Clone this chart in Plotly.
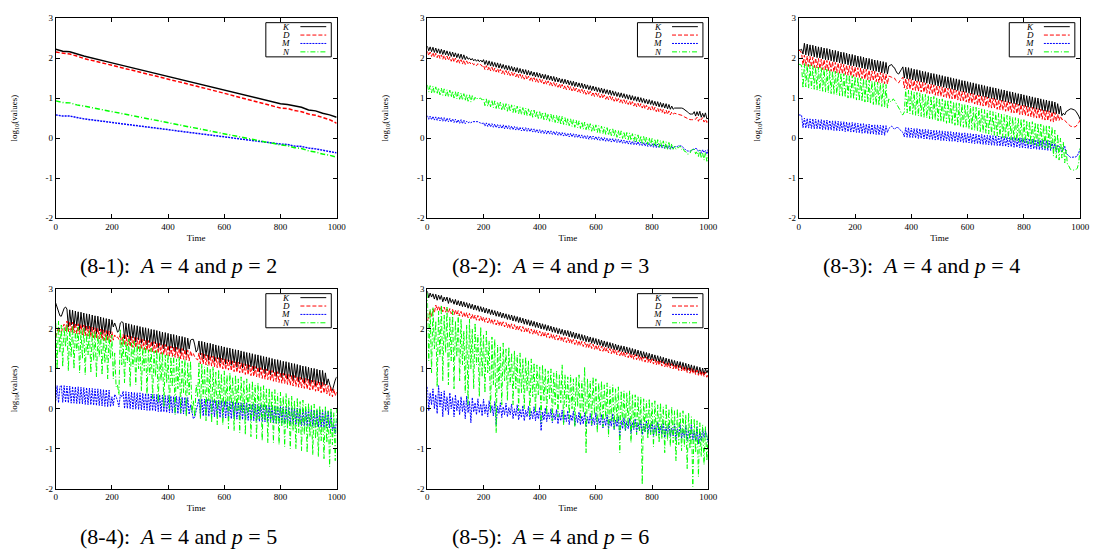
import plotly.graph_objects as go

# ---------------- data ----------------
# Panel (8-1): smooth curves
TIME_P1 = [0, 25, 50, 75, 100, 200, 300, 400, 500, 600, 700, 800, 825, 850, 875, 900, 925, 950, 975, 1000]
P1_K = [2.22, 2.17, 2.16, 2.10, 2.05, 1.88, 1.71, 1.54, 1.37, 1.20, 1.04, 0.86, 0.84, 0.80, 0.77, 0.70, 0.68, 0.62, 0.58, 0.52]
P1_D = [2.15, 2.12, 2.10, 2.05, 1.99, 1.82, 1.65, 1.48, 1.30, 1.12, 0.94, 0.75, 0.74, 0.69, 0.66, 0.60, 0.57, 0.51, 0.46, 0.37]
P1_M = [0.58, 0.55, 0.55, 0.51, 0.48, 0.39, 0.30, 0.21, 0.11, 0.03, -0.06, -0.15, -0.16, -0.20, -0.21, -0.25, -0.27, -0.30, -0.33, -0.37]
P1_N = [0.93, 0.89, 0.88, 0.83, 0.80, 0.66, 0.52, 0.38, 0.24, 0.10, -0.03, -0.17, -0.19, -0.24, -0.26, -0.32, -0.35, -0.40, -0.43, -0.48]

# Panels (8-2)..(8-5): oscillating curves, read as upper values at t = 0,10,...,1000
# and lower values at t = 5,15,...,995
T_HI = list(range(0, 1001, 10))
T_LO = list(range(5, 1000, 10))

P2_K_HI = [2.30, 2.28, 2.27, 2.25, 2.23, 2.22, 2.20, 2.18, 2.16, 2.15,
           2.13, 2.11, 2.10, 2.08, 2.04, 2.00, 1.99, 1.97, 1.96, 1.95,
           1.96, 1.94, 1.93, 1.91, 1.89, 1.88, 1.86, 1.84, 1.82, 1.81,
           1.79, 1.77, 1.76, 1.74, 1.72, 1.71, 1.69, 1.67, 1.65, 1.64,
           1.62, 1.60, 1.59, 1.57, 1.55, 1.54, 1.52, 1.50, 1.48, 1.47,
           1.45, 1.43, 1.42, 1.40, 1.38, 1.37, 1.35, 1.33, 1.31, 1.30,
           1.28, 1.26, 1.25, 1.23, 1.21, 1.20, 1.18, 1.16, 1.14, 1.13,
           1.11, 1.09, 1.08, 1.06, 1.04, 1.03, 1.01, 0.99, 0.97, 0.96,
           0.94, 0.92, 0.91, 0.89, 0.87, 0.86, 0.84, 0.80, 0.75, 0.76,
           0.76, 0.74, 0.69, 0.63, 0.60, 0.66, 0.66, 0.67, 0.62, 0.63,
           0.50]
P2_K_LO = [2.18, 2.16, 2.14, 2.13, 2.11, 2.09, 2.08, 2.06, 2.04, 2.03,
           2.01, 1.99, 1.97, 1.96, 1.97, 1.95, 1.93, 1.92, 1.91, 1.90,
           1.84, 1.82, 1.80, 1.79, 1.77, 1.75, 1.74, 1.72, 1.70, 1.69,
           1.67, 1.65, 1.63, 1.62, 1.60, 1.58, 1.57, 1.55, 1.53, 1.52,
           1.50, 1.48, 1.46, 1.45, 1.43, 1.41, 1.40, 1.38, 1.36, 1.35,
           1.33, 1.31, 1.29, 1.28, 1.26, 1.24, 1.23, 1.21, 1.19, 1.18,
           1.16, 1.14, 1.12, 1.11, 1.09, 1.07, 1.06, 1.04, 1.02, 1.01,
           0.99, 0.97, 0.95, 0.94, 0.92, 0.90, 0.89, 0.87, 0.85, 0.84,
           0.82, 0.80, 0.78, 0.77, 0.75, 0.73, 0.72, 0.72, 0.75, 0.76,
           0.75, 0.72, 0.66, 0.60, 0.60, 0.55, 0.56, 0.52, 0.52, 0.48]
P2_D_HI = [2.17, 2.15, 2.14, 2.12, 2.10, 2.08, 2.07, 2.05, 2.03, 2.01,
           2.00, 1.98, 1.96, 1.95, 1.93, 1.90, 1.88, 1.86, 1.86, 1.84,
           1.82, 1.81, 1.79, 1.77, 1.75, 1.74, 1.72, 1.70, 1.69, 1.67,
           1.65, 1.63, 1.62, 1.60, 1.58, 1.56, 1.55, 1.53, 1.51, 1.50,
           1.48, 1.46, 1.44, 1.43, 1.41, 1.39, 1.37, 1.36, 1.34, 1.32,
           1.31, 1.29, 1.27, 1.25, 1.24, 1.22, 1.20, 1.18, 1.17, 1.15,
           1.13, 1.12, 1.10, 1.08, 1.06, 1.05, 1.03, 1.01, 0.99, 0.98,
           0.96, 0.94, 0.93, 0.91, 0.89, 0.87, 0.86, 0.84, 0.82, 0.80,
           0.79, 0.77, 0.75, 0.73, 0.72, 0.70, 0.68, 0.65, 0.62, 0.61,
           0.59, 0.56, 0.51, 0.47, 0.46, 0.48, 0.52, 0.50, 0.51, 0.47,
           0.43]
P2_D_LO = [2.06, 2.04, 2.02, 2.01, 1.99, 1.97, 1.96, 1.94, 1.92, 1.90,
           1.89, 1.87, 1.85, 1.84, 1.84, 1.85, 1.83, 1.81, 1.82, 1.79,
           1.71, 1.70, 1.68, 1.66, 1.65, 1.63, 1.61, 1.59, 1.58, 1.56,
           1.54, 1.53, 1.51, 1.49, 1.47, 1.46, 1.44, 1.42, 1.40, 1.39,
           1.37, 1.35, 1.34, 1.32, 1.30, 1.28, 1.27, 1.25, 1.23, 1.21,
           1.20, 1.18, 1.16, 1.15, 1.13, 1.11, 1.09, 1.08, 1.06, 1.04,
           1.03, 1.01, 0.99, 0.97, 0.96, 0.94, 0.92, 0.90, 0.89, 0.87,
           0.85, 0.84, 0.82, 0.80, 0.78, 0.77, 0.75, 0.73, 0.71, 0.70,
           0.68, 0.66, 0.65, 0.63, 0.61, 0.59, 0.58, 0.60, 0.61, 0.60,
           0.58, 0.53, 0.49, 0.46, 0.46, 0.47, 0.42, 0.46, 0.40, 0.39]
P2_M_HI = [0.56, 0.55, 0.54, 0.53, 0.53, 0.52, 0.51, 0.50, 0.49, 0.48,
           0.47, 0.46, 0.46, 0.45, 0.42, 0.40, 0.41, 0.42, 0.41, 0.38,
           0.39, 0.38, 0.37, 0.36, 0.35, 0.34, 0.33, 0.33, 0.32, 0.31,
           0.30, 0.29, 0.28, 0.27, 0.26, 0.26, 0.25, 0.24, 0.23, 0.22,
           0.21, 0.20, 0.19, 0.19, 0.18, 0.17, 0.16, 0.15, 0.14, 0.13,
           0.12, 0.12, 0.11, 0.10, 0.09, 0.08, 0.07, 0.06, 0.06, 0.05,
           0.04, 0.03, 0.02, 0.01, 0.00, -0.01, -0.01, -0.02, -0.03, -0.04,
           -0.05, -0.06, -0.07, -0.08, -0.08, -0.09, -0.10, -0.11, -0.12, -0.13,
           -0.14, -0.14, -0.15, -0.16, -0.17, -0.18, -0.19, -0.20, -0.22, -0.21,
           -0.19, -0.23, -0.30, -0.33, -0.31, -0.27, -0.27, -0.30, -0.29, -0.31,
           -0.28]
P2_M_LO = [0.47, 0.46, 0.45, 0.44, 0.43, 0.42, 0.41, 0.41, 0.40, 0.39,
           0.38, 0.37, 0.36, 0.36, 0.38, 0.38, 0.41, 0.42, 0.39, 0.36,
           0.30, 0.29, 0.28, 0.27, 0.26, 0.25, 0.24, 0.23, 0.23, 0.22,
           0.21, 0.20, 0.19, 0.18, 0.17, 0.17, 0.16, 0.15, 0.14, 0.13,
           0.12, 0.11, 0.10, 0.10, 0.09, 0.08, 0.07, 0.06, 0.05, 0.04,
           0.03, 0.03, 0.02, 0.01, 0.00, -0.01, -0.02, -0.03, -0.03, -0.04,
           -0.05, -0.06, -0.07, -0.08, -0.09, -0.10, -0.10, -0.11, -0.12, -0.13,
           -0.14, -0.15, -0.16, -0.17, -0.17, -0.18, -0.19, -0.20, -0.21, -0.22,
           -0.23, -0.24, -0.24, -0.25, -0.26, -0.27, -0.28, -0.26, -0.22, -0.19,
           -0.20, -0.27, -0.32, -0.33, -0.28, -0.26, -0.33, -0.38, -0.36, -0.40]
P2_N_HI = [1.33, 1.31, 1.30, 1.28, 1.26, 1.25, 1.23, 1.21, 1.20, 1.18,
           1.16, 1.15, 1.13, 1.11, 1.10, 1.08, 1.06, 1.02, 1.01, 1.00,
           0.99, 0.98, 0.96, 0.95, 0.93, 0.91, 0.90, 0.88, 0.86, 0.85,
           0.83, 0.81, 0.80, 0.78, 0.76, 0.75, 0.73, 0.71, 0.70, 0.68,
           0.66, 0.65, 0.63, 0.61, 0.60, 0.58, 0.57, 0.57, 0.55, 0.51,
           0.50, 0.48, 0.46, 0.45, 0.43, 0.41, 0.40, 0.38, 0.36, 0.34,
           0.33, 0.31, 0.30, 0.28, 0.26, 0.24, 0.23, 0.21, 0.19, 0.18,
           0.16, 0.14, 0.13, 0.11, 0.09, 0.08, 0.06, 0.04, 0.03, 0.01,
           -0.01, -0.02, -0.04, -0.06, -0.07, -0.09, -0.11, -0.14, -0.20, -0.24,
           -0.20, -0.25, -0.34, -0.40, -0.30, -0.26, -0.33, -0.30, -0.38, -0.36,
           -0.42]
P2_N_LO = [1.15, 1.13, 1.12, 1.10, 1.08, 1.07, 1.05, 1.03, 1.02, 1.00,
           0.98, 0.97, 0.95, 0.93, 0.92, 0.90, 0.93, 0.96, 0.99, 0.95,
           0.81, 0.79, 0.78, 0.76, 0.74, 0.72, 0.71, 0.69, 0.67, 0.66,
           0.64, 0.62, 0.61, 0.59, 0.57, 0.56, 0.54, 0.52, 0.51, 0.49,
           0.47, 0.46, 0.44, 0.42, 0.41, 0.39, 0.37, 0.33, 0.34, 0.32,
           0.31, 0.29, 0.27, 0.26, 0.24, 0.22, 0.21, 0.19, 0.17, 0.16,
           0.14, 0.12, 0.11, 0.09, 0.07, 0.06, 0.04, 0.02, 0.01, -0.01,
           -0.03, -0.04, -0.06, -0.08, -0.09, -0.11, -0.13, -0.14, -0.16, -0.18,
           -0.19, -0.21, -0.23, -0.24, -0.26, -0.28, -0.29, -0.28, -0.28, -0.24,
           -0.28, -0.33, -0.40, -0.38, -0.28, -0.40, -0.46, -0.50, -0.55, -0.58]

P3_K_HI = [2.20, 2.22, 2.37, 2.35, 2.33, 2.32, 2.30, 2.28, 2.27, 2.25,
           2.24, 2.22, 2.20, 2.19, 2.17, 2.15, 2.14, 2.12, 2.10, 2.09,
           2.07, 2.05, 2.04, 2.02, 2.00, 1.99, 1.97, 1.95, 1.94, 1.92,
           1.91, 1.89, 1.80, 1.84, 1.76, 1.62, 1.68, 1.78, 1.77, 1.76,
           1.74, 1.72, 1.71, 1.69, 1.67, 1.66, 1.64, 1.62, 1.61, 1.59,
           1.58, 1.56, 1.54, 1.53, 1.51, 1.49, 1.48, 1.46, 1.44, 1.43,
           1.41, 1.39, 1.38, 1.36, 1.34, 1.33, 1.31, 1.29, 1.28, 1.26,
           1.25, 1.23, 1.21, 1.20, 1.18, 1.16, 1.15, 1.13, 1.11, 1.10,
           1.08, 1.06, 1.05, 1.03, 1.01, 1.00, 0.98, 0.96, 0.95, 0.93,
           0.92, 0.90, 0.86, 0.80, 0.62, 0.66, 0.72, 0.73, 0.70, 0.62,
           0.46]
P3_K_LO = [2.20, 2.10, 2.08, 2.06, 2.05, 2.03, 2.01, 2.00, 1.98, 1.96,
           1.95, 1.93, 1.91, 1.90, 1.88, 1.86, 1.85, 1.83, 1.81, 1.80,
           1.78, 1.77, 1.75, 1.73, 1.72, 1.70, 1.68, 1.67, 1.65, 1.63,
           1.62, 1.60, 1.82, 1.78, 1.68, 1.60, 1.72, 1.50, 1.48, 1.47,
           1.45, 1.43, 1.42, 1.40, 1.39, 1.37, 1.35, 1.34, 1.32, 1.30,
           1.29, 1.27, 1.25, 1.24, 1.22, 1.20, 1.19, 1.17, 1.15, 1.14,
           1.12, 1.10, 1.09, 1.07, 1.05, 1.04, 1.02, 1.00, 0.99, 0.97,
           0.96, 0.94, 0.92, 0.91, 0.89, 0.87, 0.86, 0.84, 0.82, 0.81,
           0.79, 0.77, 0.76, 0.74, 0.72, 0.71, 0.69, 0.67, 0.66, 0.64,
           0.62, 0.61, 0.60, 0.56, 0.58, 0.69, 0.73, 0.72, 0.67, 0.55]
P3_D_HI = [2.20, 2.12, 2.07, 2.05, 2.04, 2.02, 2.00, 1.99, 1.97, 1.96,
           1.94, 1.92, 1.91, 1.89, 1.88, 1.86, 1.84, 1.83, 1.81, 1.80,
           1.78, 1.76, 1.75, 1.73, 1.72, 1.70, 1.68, 1.67, 1.65, 1.64,
           1.62, 1.60, 1.55, 1.52, 1.50, 1.40, 1.44, 1.52, 1.49, 1.48,
           1.46, 1.44, 1.43, 1.41, 1.40, 1.38, 1.36, 1.35, 1.33, 1.32,
           1.30, 1.28, 1.27, 1.25, 1.24, 1.22, 1.20, 1.19, 1.17, 1.16,
           1.14, 1.12, 1.11, 1.09, 1.08, 1.06, 1.04, 1.03, 1.01, 1.00,
           0.98, 0.96, 0.95, 0.93, 0.92, 0.90, 0.88, 0.87, 0.85, 0.84,
           0.82, 0.80, 0.79, 0.77, 0.76, 0.74, 0.72, 0.71, 0.69, 0.68,
           0.66, 0.64, 0.60, 0.55, 0.48, 0.40, 0.33, 0.29, 0.28, 0.33,
           0.45]
P3_D_LO = [2.18, 1.83, 1.81, 1.79, 1.78, 1.76, 1.75, 1.73, 1.71, 1.70,
           1.68, 1.67, 1.65, 1.63, 1.62, 1.60, 1.59, 1.57, 1.55, 1.54,
           1.52, 1.51, 1.49, 1.47, 1.46, 1.44, 1.43, 1.41, 1.39, 1.38,
           1.36, 1.35, 1.54, 1.50, 1.44, 1.38, 1.48, 1.25, 1.23, 1.22,
           1.20, 1.19, 1.17, 1.15, 1.14, 1.12, 1.11, 1.09, 1.07, 1.06,
           1.04, 1.03, 1.01, 0.99, 0.98, 0.96, 0.95, 0.93, 0.91, 0.90,
           0.88, 0.87, 0.85, 0.83, 0.82, 0.80, 0.79, 0.77, 0.75, 0.74,
           0.72, 0.71, 0.69, 0.67, 0.66, 0.64, 0.63, 0.61, 0.59, 0.58,
           0.56, 0.55, 0.53, 0.51, 0.50, 0.48, 0.47, 0.45, 0.43, 0.42,
           0.40, 0.42, 0.44, 0.46, 0.44, 0.36, 0.30, 0.28, 0.29, 0.39]
P3_M_HI = [0.58, 0.57, 0.50, 0.49, 0.48, 0.48, 0.47, 0.46, 0.46, 0.45,
           0.45, 0.44, 0.43, 0.43, 0.42, 0.41, 0.41, 0.40, 0.39, 0.39,
           0.38, 0.37, 0.37, 0.36, 0.35, 0.35, 0.34, 0.33, 0.33, 0.32,
           0.32, 0.31, 0.24, 0.30, 0.22, 0.28, 0.20, 0.14, 0.26, 0.26,
           0.25, 0.24, 0.24, 0.23, 0.22, 0.22, 0.21, 0.20, 0.20, 0.19,
           0.19, 0.18, 0.17, 0.17, 0.16, 0.15, 0.15, 0.14, 0.13, 0.13,
           0.12, 0.11, 0.11, 0.10, 0.09, 0.09, 0.08, 0.07, 0.07, 0.06,
           0.06, 0.05, 0.04, 0.04, 0.03, 0.02, 0.02, 0.01, 0.00, 0.00,
           -0.01, -0.02, -0.02, -0.03, -0.04, -0.04, -0.05, -0.06, -0.06, -0.07,
           -0.10, -0.14, -0.18, -0.22, -0.26, -0.38, -0.46, -0.48, -0.48, -0.44,
           -0.28]
P3_M_LO = [0.58, 0.26, 0.25, 0.25, 0.24, 0.23, 0.23, 0.22, 0.21, 0.21,
           0.20, 0.20, 0.19, 0.18, 0.18, 0.17, 0.16, 0.16, 0.15, 0.14,
           0.14, 0.13, 0.12, 0.12, 0.11, 0.10, 0.10, 0.09, 0.08, 0.08,
           0.07, 0.14, 0.27, 0.26, 0.25, 0.24, 0.16, 0.03, 0.02, 0.01,
           0.01, 0.00, -0.01, -0.01, -0.02, -0.03, -0.03, -0.04, -0.05, -0.05,
           -0.06, -0.07, -0.07, -0.08, -0.08, -0.09, -0.10, -0.10, -0.11, -0.12,
           -0.12, -0.13, -0.14, -0.14, -0.15, -0.16, -0.16, -0.17, -0.18, -0.18,
           -0.19, -0.20, -0.20, -0.21, -0.22, -0.22, -0.23, -0.23, -0.24, -0.25,
           -0.25, -0.26, -0.27, -0.27, -0.28, -0.29, -0.29, -0.30, -0.31, -0.31,
           -0.28, -0.34, -0.22, -0.36, -0.20, -0.42, -0.48, -0.48, -0.47, -0.36]
P3_N_HI = [1.85, 1.82, 1.86, 1.85, 1.83, 1.81, 1.79, 1.77, 1.76, 1.74,
           1.72, 1.70, 1.68, 1.67, 1.65, 1.63, 1.61, 1.59, 1.58, 1.56,
           1.54, 1.52, 1.50, 1.49, 1.47, 1.45, 1.43, 1.41, 1.40, 1.38,
           1.36, 1.34, 0.98, 0.90, 0.95, 0.82, 0.70, 0.58, 1.22, 1.20,
           1.18, 1.16, 1.14, 1.13, 1.11, 1.09, 1.07, 1.05, 1.04, 1.02,
           1.00, 0.98, 0.96, 0.95, 0.93, 0.91, 0.89, 0.87, 0.86, 0.84,
           0.82, 0.80, 0.78, 0.77, 0.75, 0.73, 0.71, 0.69, 0.68, 0.66,
           0.64, 0.62, 0.60, 0.59, 0.57, 0.55, 0.53, 0.51, 0.50, 0.48,
           0.46, 0.44, 0.42, 0.41, 0.39, 0.37, 0.35, 0.33, 0.32, 0.30,
           0.28, 0.20, 0.10, 0.00, -0.10, -0.30, -0.70, -0.80, -0.80, -0.75,
           -0.25]
P3_N_LO = [1.84, 1.25, 1.28, 1.25, 1.24, 1.22, 1.20, 1.18, 1.17, 1.15,
           1.13, 1.11, 1.09, 1.08, 1.06, 1.04, 1.02, 1.00, 0.99, 0.97,
           0.95, 0.93, 0.91, 0.90, 0.88, 0.86, 0.84, 0.82, 0.81, 0.79,
           0.77, 0.75, 0.92, 0.98, 0.88, 0.76, 0.60, 0.65, 0.63, 0.61,
           0.59, 0.57, 0.55, 0.54, 0.52, 0.50, 0.48, 0.46, 0.45, 0.43,
           0.41, 0.39, 0.37, 0.36, 0.34, 0.32, 0.30, 0.28, 0.27, 0.25,
           0.23, 0.21, 0.19, 0.18, 0.16, 0.14, 0.12, 0.10, 0.09, 0.07,
           0.05, 0.03, 0.01, 0.00, -0.02, -0.04, -0.06, -0.08, -0.09, -0.11,
           -0.13, -0.15, -0.17, -0.18, -0.20, -0.22, -0.24, -0.26, -0.27, -0.29,
           -0.45, -0.50, -0.55, -0.50, -0.62, -0.68, -0.78, -0.80, -0.79, -0.60]

P4_K_HI = [2.65, 2.42, 2.32, 2.52, 2.50, 2.48, 2.47, 2.45, 2.43, 2.42,
           2.40, 2.38, 2.37, 2.35, 2.33, 2.32, 2.30, 2.28, 2.26, 2.25,
           2.23, 2.15, 1.92, 2.15, 2.16, 2.15, 2.13, 2.11, 2.09, 2.08,
           2.06, 2.04, 2.03, 2.01, 1.99, 1.98, 1.96, 1.94, 1.92, 1.91,
           1.89, 1.87, 1.86, 1.84, 1.82, 1.81, 1.79, 1.77, 1.72, 1.74,
           1.42, 1.70, 1.69, 1.67, 1.65, 1.64, 1.62, 1.60, 1.58, 1.57,
           1.55, 1.53, 1.52, 1.50, 1.48, 1.47, 1.45, 1.43, 1.41, 1.40,
           1.38, 1.36, 1.35, 1.33, 1.31, 1.30, 1.28, 1.26, 1.24, 1.23,
           1.21, 1.19, 1.18, 1.16, 1.14, 1.13, 1.11, 1.09, 1.07, 1.06,
           1.04, 1.02, 1.01, 0.99, 0.97, 0.96, 0.90, 0.75, 0.50, 0.62,
           0.80]
P4_K_LO = [2.55, 2.33, 2.40, 2.55, 2.05, 2.10, 2.02, 2.08, 1.98, 2.04,
           1.96, 2.00, 1.92, 1.98, 1.88, 1.95, 1.86, 1.91, 1.83, 1.88,
           2.05, 2.05, 1.95, 2.18, 1.75, 1.80, 1.71, 1.77, 1.67, 1.73,
           1.64, 1.70, 1.60, 1.66, 1.57, 1.63, 1.53, 1.59, 1.50, 1.56,
           1.46, 1.52, 1.43, 1.49, 1.39, 1.46, 1.36, 1.50, 1.74, 1.60,
           1.48, 1.35, 1.25, 1.32, 1.22, 1.29, 1.19, 1.25, 1.15, 1.22,
           1.12, 1.18, 1.09, 1.15, 1.05, 1.12, 1.02, 1.08, 0.98, 1.05,
           0.95, 1.01, 0.92, 0.98, 0.88, 0.95, 0.85, 0.91, 0.81, 0.88,
           0.78, 0.84, 0.75, 0.81, 0.71, 0.78, 0.68, 0.74, 0.64, 0.71,
           0.61, 0.67, 0.58, 0.64, 0.54, 0.60, 0.60, 0.62, 0.46, 0.72]
P4_D_HI = [1.80, 2.05, 1.90, 2.12, 2.20, 2.19, 2.17, 2.15, 2.13, 2.12,
           2.10, 2.08, 2.07, 2.05, 2.03, 2.02, 2.00, 1.98, 1.96, 1.95,
           1.93, 1.85, 1.80, 1.88, 1.86, 1.85, 1.83, 1.81, 1.79, 1.78,
           1.76, 1.74, 1.73, 1.71, 1.69, 1.68, 1.66, 1.64, 1.62, 1.61,
           1.59, 1.57, 1.56, 1.54, 1.52, 1.51, 1.49, 1.47, 1.45, 1.38,
           1.25, 1.40, 1.39, 1.37, 1.35, 1.34, 1.32, 1.30, 1.28, 1.27,
           1.25, 1.23, 1.22, 1.20, 1.18, 1.17, 1.15, 1.13, 1.11, 1.10,
           1.08, 1.06, 1.05, 1.03, 1.01, 1.00, 0.98, 0.96, 0.94, 0.93,
           0.91, 0.89, 0.88, 0.86, 0.84, 0.83, 0.81, 0.79, 0.77, 0.76,
           0.74, 0.72, 0.71, 0.69, 0.67, 0.66, 0.62, 0.58, 0.55, 0.50,
           0.42]
P4_D_LO = [1.95, 1.92, 2.05, 1.95, 1.93, 1.92, 1.90, 1.88, 1.87, 1.85,
           1.83, 1.82, 1.80, 1.78, 1.76, 1.75, 1.73, 1.71, 1.70, 1.68,
           1.72, 1.78, 1.74, 1.61, 1.59, 1.58, 1.56, 1.54, 1.53, 1.51,
           1.49, 1.48, 1.46, 1.44, 1.42, 1.41, 1.39, 1.37, 1.36, 1.34,
           1.32, 1.31, 1.29, 1.27, 1.25, 1.24, 1.22, 1.20, 1.32, 1.30,
           1.22, 1.13, 1.12, 1.10, 1.08, 1.07, 1.05, 1.03, 1.02, 1.00,
           0.98, 0.97, 0.95, 0.93, 0.91, 0.90, 0.88, 0.86, 0.85, 0.83,
           0.81, 0.80, 0.78, 0.76, 0.74, 0.73, 0.71, 0.69, 0.68, 0.66,
           0.64, 0.63, 0.61, 0.59, 0.57, 0.56, 0.54, 0.52, 0.51, 0.49,
           0.47, 0.46, 0.44, 0.42, 0.40, 0.39, 0.37, 0.33, 0.30, 0.32]
P4_M_HI = [0.20, 0.15, 0.59, 0.58, 0.57, 0.57, 0.56, 0.55, 0.55, 0.54,
           0.53, 0.53, 0.52, 0.51, 0.50, 0.50, 0.49, 0.48, 0.48, 0.47,
           0.30, 0.36, 0.20, 0.35, 0.44, 0.43, 0.42, 0.42, 0.41, 0.40,
           0.40, 0.39, 0.38, 0.38, 0.37, 0.36, 0.36, 0.35, 0.34, 0.33,
           0.33, 0.32, 0.31, 0.31, 0.30, 0.29, 0.29, 0.28, 0.10, -0.25,
           -0.05, 0.25, 0.25, 0.24, 0.23, 0.23, 0.22, 0.21, 0.21, 0.20,
           0.19, 0.19, 0.18, 0.17, 0.16, 0.16, 0.15, 0.14, 0.14, 0.13,
           0.12, 0.12, 0.11, 0.10, 0.10, 0.09, 0.08, 0.08, 0.07, 0.06,
           0.06, 0.05, 0.04, 0.04, 0.03, 0.02, 0.02, 0.01, 0.00, -0.01,
           -0.01, -0.02, -0.03, -0.03, -0.04, -0.05, -0.05, -0.06, -0.07, -0.40,
           -0.25]
P4_M_LO = [0.58, 0.55, 0.16, 0.16, 0.15, 0.14, 0.14, 0.13, 0.12, 0.12,
           0.11, 0.10, 0.10, 0.09, 0.08, 0.08, 0.07, 0.06, 0.05, 0.05,
           0.08, 0.30, 0.05, 0.30, 0.01, 0.01, 0.00, -0.01, -0.01, -0.02,
           -0.03, -0.03, -0.04, -0.05, -0.05, -0.06, -0.07, -0.08, -0.08, -0.09,
           -0.10, -0.10, -0.11, -0.12, -0.12, -0.13, -0.14, -0.14, -0.10, -0.20,
           0.10, -0.17, -0.18, -0.18, -0.19, -0.20, -0.20, -0.21, -0.22, -0.22,
           -0.23, -0.24, -0.25, -0.25, -0.26, -0.27, -0.27, -0.28, -0.29, -0.29,
           -0.30, -0.31, -0.31, -0.32, -0.33, -0.33, -0.34, -0.35, -0.35, -0.36,
           -0.37, -0.37, -0.38, -0.39, -0.39, -0.40, -0.41, -0.42, -0.42, -0.43,
           -0.44, -0.44, -0.45, -0.46, -0.46, -0.47, -0.48, -0.48, -0.55, -0.62]
P4_N_HI = [2.15, 2.20, 2.10, 2.05, 2.12, 2.00, 2.08, 1.95, 2.05, 1.98,
           2.02, 1.90, 1.98, 1.92, 1.95, 1.85, 1.92, 1.80, 1.88, 1.82,
           1.85, 1.40, 0.60, 2.00, 1.78, 1.70, 1.75, 1.65, 1.70, 1.62,
           1.62, 1.55, 1.58, 1.48, 1.52, 1.45, 1.48, 1.40, 1.42, 1.35,
           1.38, 1.30, 1.34, 1.25, 1.30, 1.20, 1.25, 1.15, 1.20, 0.20,
           0.60, 1.15, 1.12, 1.05, 1.10, 1.00, 1.05, 0.92, 0.98, 0.88,
           0.95, 0.85, 0.90, 0.80, 0.85, 0.75, 0.80, 0.70, 0.75, 0.65,
           0.70, 0.60, 0.65, 0.55, 0.58, 0.50, 0.52, 0.45, 0.48, 0.38,
           0.42, 0.32, 0.38, 0.28, 0.32, 0.22, 0.28, 0.18, 0.22, 0.12,
           0.15, 0.08, 0.12, 0.02, 0.08, -0.02, 0.05, -0.05, 0.02, -0.10,
           0.05]
P4_N_LO = [1.00, 1.40, 1.05, 1.55, 0.95, 1.30, 1.00, 1.45, 0.90, 1.25,
           0.85, 1.35, 0.90, 1.20, 0.80, 1.30, 0.85, 1.15, 0.75, 1.25,
           0.75, 0.55, 0.35, 1.10, 0.65, 1.15, 0.55, 1.05, 0.60, 1.00,
           0.45, 0.95, 0.35, 0.85, 0.25, 0.80, 0.15, 0.70, 0.05, 0.65,
           0.00, 0.55, -0.15, 0.50, -0.10, 0.40, -0.20, 0.35, -0.10, -0.20,
           0.30, -0.25, 0.30, -0.30, 0.20, -0.35, 0.15, -0.40, 0.10, -0.40,
           0.05, -0.50, 0.00, -0.55, -0.05, -0.60, -0.10, -0.65, -0.15, -0.70,
           -0.20, -0.75, -0.25, -0.80, -0.30, -0.85, -0.35, -0.85, -0.40, -0.90,
           -0.45, -0.95, -0.50, -1.00, -0.55, -1.00, -0.60, -1.05, -0.65, -1.10,
           -0.70, -1.15, -0.75, -1.20, -0.80, -1.25, -0.85, -1.45, -0.90, -1.30]

P5_K_HI = [2.95, 2.90, 2.88, 2.87, 2.85, 2.84, 2.80, 2.80, 2.78, 2.74,
           2.74, 2.71, 2.70, 2.68, 2.66, 2.64, 2.62, 2.60, 2.58, 2.56,
           2.54, 2.52, 2.50, 2.48, 2.46, 2.44, 2.42, 2.40, 2.38, 2.36,
           2.35, 2.33, 2.31, 2.29, 2.27, 2.25, 2.23, 2.21, 2.19, 2.17,
           2.15, 2.13, 2.11, 2.09, 2.07, 2.05, 2.03, 2.01, 1.99, 1.97,
           1.96, 1.94, 1.92, 1.90, 1.88, 1.86, 1.84, 1.82, 1.80, 1.78,
           1.76, 1.74, 1.72, 1.70, 1.68, 1.66, 1.64, 1.62, 1.60, 1.58,
           1.57, 1.55, 1.53, 1.51, 1.49, 1.47, 1.45, 1.43, 1.41, 1.39,
           1.37, 1.35, 1.33, 1.31, 1.29, 1.27, 1.25, 1.23, 1.21, 1.19,
           1.18, 1.16, 1.14, 1.12, 1.10, 1.08, 1.06, 1.04, 1.02, 1.00,
           0.98]
P5_K_LO = [2.78, 2.80, 2.75, 2.72, 2.74, 2.68, 2.70, 2.64, 2.66, 2.62,
           2.60, 2.58, 2.56, 2.55, 2.52, 2.51, 2.48, 2.47, 2.44, 2.43,
           2.40, 2.39, 2.36, 2.35, 2.32, 2.31, 2.28, 2.27, 2.24, 2.23,
           2.20, 2.19, 2.16, 2.15, 2.12, 2.11, 2.08, 2.07, 2.04, 2.03,
           2.00, 1.99, 1.96, 1.95, 1.92, 1.91, 1.88, 1.87, 1.84, 1.83,
           1.80, 1.79, 1.76, 1.75, 1.72, 1.71, 1.68, 1.67, 1.64, 1.63,
           1.60, 1.59, 1.56, 1.55, 1.52, 1.51, 1.48, 1.47, 1.44, 1.43,
           1.40, 1.39, 1.36, 1.35, 1.32, 1.31, 1.28, 1.27, 1.24, 1.23,
           1.20, 1.19, 1.16, 1.15, 1.12, 1.11, 1.08, 1.07, 1.04, 1.03,
           1.00, 0.99, 0.96, 0.95, 0.92, 0.91, 0.88, 0.87, 0.85, 0.90]
P5_D_HI = [2.20, 2.45, 2.50, 2.60, 2.58, 2.56, 2.55, 2.53, 2.51, 2.49,
           2.48, 2.46, 2.44, 2.42, 2.41, 2.39, 2.37, 2.35, 2.34, 2.32,
           2.30, 2.28, 2.27, 2.25, 2.23, 2.21, 2.20, 2.18, 2.16, 2.14,
           2.13, 2.11, 2.09, 2.07, 2.06, 2.04, 2.02, 2.00, 1.99, 1.97,
           1.95, 1.93, 1.92, 1.90, 1.88, 1.86, 1.85, 1.83, 1.81, 1.79,
           1.78, 1.76, 1.74, 1.72, 1.71, 1.69, 1.67, 1.65, 1.64, 1.62,
           1.60, 1.58, 1.57, 1.55, 1.53, 1.51, 1.50, 1.48, 1.46, 1.44,
           1.43, 1.41, 1.39, 1.37, 1.36, 1.34, 1.32, 1.30, 1.29, 1.27,
           1.25, 1.23, 1.22, 1.20, 1.18, 1.16, 1.15, 1.13, 1.11, 1.09,
           1.08, 1.06, 1.04, 1.02, 1.01, 0.99, 0.97, 0.95, 0.94, 0.92,
           0.88]
P5_D_LO = [2.35, 2.30, 2.40, 2.47, 2.45, 2.43, 2.42, 2.40, 2.38, 2.36,
           2.35, 2.33, 2.31, 2.29, 2.28, 2.26, 2.24, 2.22, 2.21, 2.19,
           2.17, 2.15, 2.14, 2.12, 2.10, 2.08, 2.07, 2.05, 2.03, 2.01,
           2.00, 1.98, 1.96, 1.94, 1.93, 1.91, 1.89, 1.87, 1.86, 1.84,
           1.82, 1.80, 1.79, 1.77, 1.75, 1.73, 1.72, 1.70, 1.68, 1.66,
           1.65, 1.63, 1.61, 1.59, 1.58, 1.56, 1.54, 1.52, 1.51, 1.49,
           1.47, 1.45, 1.44, 1.42, 1.40, 1.38, 1.37, 1.35, 1.33, 1.31,
           1.30, 1.28, 1.26, 1.24, 1.23, 1.21, 1.19, 1.17, 1.16, 1.14,
           1.12, 1.10, 1.09, 1.07, 1.05, 1.03, 1.02, 1.00, 0.98, 0.96,
           0.95, 0.93, 0.91, 0.89, 0.88, 0.86, 0.84, 0.82, 0.81, 0.79]
P5_M_HI = [0.55, 0.40, 0.50, 0.35, 0.58, 0.42, 0.45, 0.30, 0.40, 0.28,
           0.35, 0.22, 0.30, 0.20, 0.32, 0.18, 0.28, 0.15, 0.25, 0.12,
           0.24, 0.10, 0.20, 0.08, 0.18, 0.06, 0.15, 0.05, 0.14, 0.03,
           0.12, 0.00, 0.10, -0.02, 0.08, -0.04, 0.06, -0.05, 0.05, -0.06,
           0.04, -0.08, 0.02, -0.10, 0.00, -0.12, -0.02, -0.12, -0.03, -0.14,
           -0.05, -0.15, -0.06, -0.16, -0.08, -0.18, -0.10, -0.20, -0.12, -0.22,
           -0.10, -0.24, -0.14, -0.25, -0.15, -0.26, -0.12, -0.28, -0.20, -0.30,
           -0.22, -0.32, -0.24, -0.34, -0.25, -0.35, -0.28, -0.38, -0.30, -0.40,
           -0.30, -0.42, -0.33, -0.44, -0.35, -0.46, -0.36, -0.48, -0.38, -0.50,
           -0.40, -0.52, -0.42, -0.54, -0.40, -0.56, -0.45, -0.58, -0.50, -0.55,
           -0.85]
P5_M_LO = [-0.05, 0.10, 0.00, -0.12, 0.05, -0.20, -0.05, -0.15, 0.00, -0.20,
           -0.05, -0.15, -0.08, -0.25, -0.10, -0.35, -0.08, -0.15, -0.10, -0.18,
           -0.12, -0.20, -0.10, -0.18, -0.40, -0.12, -0.22, -0.15, -0.20, -0.15,
           -0.25, -0.18, -0.28, -0.22, -0.30, -0.20, -0.28, -0.25, -0.30, -0.25,
           -0.55, -0.28, -0.32, -0.25, -0.35, -0.28, -0.38, -0.30, -0.36, -0.32,
           -0.40, -0.30, -0.42, -0.35, -0.40, -0.38, -0.45, -0.38, -0.42, -0.40,
           -0.45, -0.40, -0.48, -0.42, -0.50, -0.44, -0.52, -0.45, -0.70, -0.50,
           -0.55, -0.50, -0.62, -0.52, -0.58, -0.55, -0.65, -0.58, -0.62, -0.60,
           -0.68, -0.62, -0.66, -0.64, -0.72, -0.66, -0.70, -0.68, -0.78, -0.70,
           -0.74, -0.72, -0.80, -0.75, -0.78, -0.80, -0.88, -0.80, -0.72, -0.70]
P5_N_HI = [2.90, 2.50, 2.55, 2.20, 2.45, 2.60, 2.35, 2.55, 2.30, 2.45,
           2.20, 2.35, 2.25, 1.95, 2.10, 2.25, 2.00, 2.15, 1.85, 2.05,
           1.85, 1.95, 1.70, 1.80, 1.75, 1.60, 1.55, 1.65, 1.50, 1.55,
           1.40, 1.45, 1.35, 1.40, 1.25, 1.30, 1.20, 1.25, 1.15, 1.10,
           1.05, 1.10, 1.00, 0.95, 1.00, 0.90, 0.95, 0.85, 1.10, 0.85,
           0.80, 0.85, 0.75, 0.80, 0.85, 0.70, 1.05, 0.75, 0.70, 0.80,
           0.75, 0.65, 0.70, 0.60, 0.65, 0.55, 0.60, 0.50, 0.55, 0.45,
           0.45, 0.40, 0.45, 0.35, 0.35, 0.30, 0.30, 0.25, 0.20, 0.25,
           0.15, 0.20, 0.10, 0.15, 0.05, 0.10, 0.00, 0.05, -0.05, 0.00,
           -0.10, -0.05, -0.15, -0.10, -0.20, -0.25, -0.30, -0.35, -0.40, -0.45,
           -0.60]
P5_N_LO = [1.20, 0.90, 1.50, 0.55, 1.30, 0.70, 1.40, 0.60, 1.20, 0.50,
           1.30, 0.70, 1.10, 0.40, 0.10, 1.00, 0.50, 1.10, 0.30, 0.80,
           0.40, 0.90, -0.10, 0.60, -0.60, 0.50, 0.10, 0.70, 0.20, 0.60,
           0.10, 0.50, -0.05, 0.40, 0.00, 0.45, -0.20, 0.30, -0.10, 0.35,
           -0.35, 0.20, -0.15, 0.25, -0.30, 0.10, -0.20, 0.15, -0.40, 0.05,
           -0.25, 0.00, -0.45, 0.05, -0.30, -0.10, -1.10, -0.05, -0.40, -0.15,
           -0.60, -0.20, -0.45, -0.25, -0.70, -0.30, -0.50, -0.35, -1.10, -0.40,
           -0.55, -0.45, -0.85, -0.50, -0.65, -0.55, -1.90, -0.60, -0.75, -0.65,
           -0.95, -0.70, -0.85, -0.75, -1.10, -0.80, -0.95, -0.85, -1.30, -0.90,
           -1.05, -0.95, -1.50, -1.00, -1.95, -1.10, -1.70, -1.20, -1.40, -1.30]

SERIES_NAMES = ["K", "D", "M", "N"]
CAPTIONS = ["(8-1):  <i>A</i> = 4 and <i>p</i> = 2",
            "(8-2):  <i>A</i> = 4 and <i>p</i> = 3",
            "(8-3):  <i>A</i> = 4 and <i>p</i> = 4",
            "(8-4):  <i>A</i> = 4 and <i>p</i> = 5",
            "(8-5):  <i>A</i> = 4 and <i>p</i> = 6"]
X_TICKS = [0, 200, 400, 600, 800, 1000]
Y_TICKS = [-2, -1, 0, 1, 2, 3]


def interleave(hi, lo):
    """Merge the upper readings (t = 0,10,..) and lower readings (t = 5,15,..) in time order."""
    assert len(hi) == len(T_HI) and len(lo) == len(T_LO)
    xs, ys = [], []
    for k in range(len(hi)):
        xs.append(T_HI[k]); ys.append(hi[k])
        if k < len(lo):
            xs.append(T_LO[k]); ys.append(lo[k])
    return xs, ys


PANELS = [
    [(TIME_P1, P1_K), (TIME_P1, P1_D), (TIME_P1, P1_M), (TIME_P1, P1_N)],
    [interleave(P2_K_HI, P2_K_LO), interleave(P2_D_HI, P2_D_LO), interleave(P2_M_HI, P2_M_LO), interleave(P2_N_HI, P2_N_LO)],
    [interleave(P3_K_HI, P3_K_LO), interleave(P3_D_HI, P3_D_LO), interleave(P3_M_HI, P3_M_LO), interleave(P3_N_HI, P3_N_LO)],
    [interleave(P4_K_HI, P4_K_LO), interleave(P4_D_HI, P4_D_LO), interleave(P4_M_HI, P4_M_LO), interleave(P4_N_HI, P4_N_LO)],
    [interleave(P5_K_HI, P5_K_LO), interleave(P5_D_HI, P5_D_LO), interleave(P5_M_HI, P5_M_LO), interleave(P5_N_HI, P5_N_LO)],
]

# ---------------- style / layout ----------------
W, H = 1107, 553
COLORS = {"K": "#000000", "D": "#ff0000", "M": "#0000ff", "N": "#00ff00"}
DASHES = {"K": "solid", "D": "4px,2px", "M": "2px,1px", "N": "5px,2px,1px,2px"}
FONT = "Liberation Serif"
# plot-area boxes in pixels: left, right, top, bottom
BOXES = [(54.3, 338.3, 13.3, 217.0), (430.0, 714.0, 13.3, 217.0), (805.5, 1090.0, 13.3, 217.0),
         (54.3, 338.3, 289.3, 492.5), (430.0, 714.0, 289.3, 492.5)]
CAPTION_POS = [(178, 265), (555, 265), (930, 265), (178, 541), (555, 541)]

fig = go.Figure()
layout = dict(width=W, height=H, margin=dict(l=0, r=0, t=0, b=0),
              paper_bgcolor="white", plot_bgcolor="white", showlegend=False,
              font=dict(family=FONT, color="black"))
shapes, annotations = [], []

for i, (series, box) in enumerate(zip(PANELS, BOXES), start=1):
    sfx = "" if i == 1 else str(i)
    xa, ya = "x" + sfx, "y" + sfx
    lw = 1.5 if i == 1 else 1
    for name, (xs, ys) in zip(SERIES_NAMES, series):
        fig.add_trace(go.Scatter(x=xs, y=ys, mode="lines", xaxis=xa, yaxis=ya,
                                 line=dict(color=COLORS[name], width=lw, dash=DASHES[name]),
                                 hoverinfo="skip"))
    l, r, t, b = box
    axis_common = dict(showgrid=False, zeroline=False, showline=True, linecolor="black", linewidth=1,
                       mirror="ticks", ticks="inside", ticklen=4, tickwidth=1, tickcolor="black",
                       tickfont=dict(family=FONT, size=9, color="black"))
    layout["xaxis" + sfx] = dict(domain=[l / W, r / W], anchor=ya, range=[0, 1000],
                                 tickvals=X_TICKS, ticktext=[str(v) for v in X_TICKS],
                                 title=dict(text="Time", font=dict(family=FONT, size=9), standoff=3),
                                 **axis_common)
    layout["yaxis" + sfx] = dict(domain=[1 - b / H, 1 - t / H], anchor=xa, range=[-2, 3],
                                 tickvals=Y_TICKS, ticktext=[str(v) for v in Y_TICKS],
                                 title=dict(text="log<sub>10</sub>(values)", font=dict(family=FONT, size=9),
                                            standoff=26),
                                 **axis_common)
    # gnuplot-style key box
    xd, yd = xa + " domain", ya + " domain"
    shapes.append(dict(type="rect", xref=xd, yref=yd, x0=0.748, x1=0.981, y0=0.806, y1=0.977,
                       line=dict(color="black", width=1), fillcolor="white"))
    rows = [0.957, 0.915, 0.873, 0.831]
    for name, yy in zip(SERIES_NAMES, rows):
        shapes.append(dict(type="line", xref=xd, yref=yd, x0=0.871, x1=0.963, y0=yy, y1=yy,
                           line=dict(color=COLORS[name], width=1, dash=DASHES[name])))
        annotations.append(dict(xref=xd, yref=yd, x=0.842, y=yy, text="<i>%s</i>" % name,
                                showarrow=False, xanchor="right", yanchor="middle",
                                font=dict(family=FONT, size=9, color="black")))

for cap, (cx, cy) in zip(CAPTIONS, CAPTION_POS):
    annotations.append(dict(xref="paper", yref="paper", x=cx / W, y=1 - cy / H, text=cap,
                            showarrow=False, xanchor="center", yanchor="middle",
                            font=dict(family=FONT, size=22, color="black")))

layout["shapes"] = shapes
layout["annotations"] = annotations
fig.update_layout(**layout)
fig.write_html("out.html")
